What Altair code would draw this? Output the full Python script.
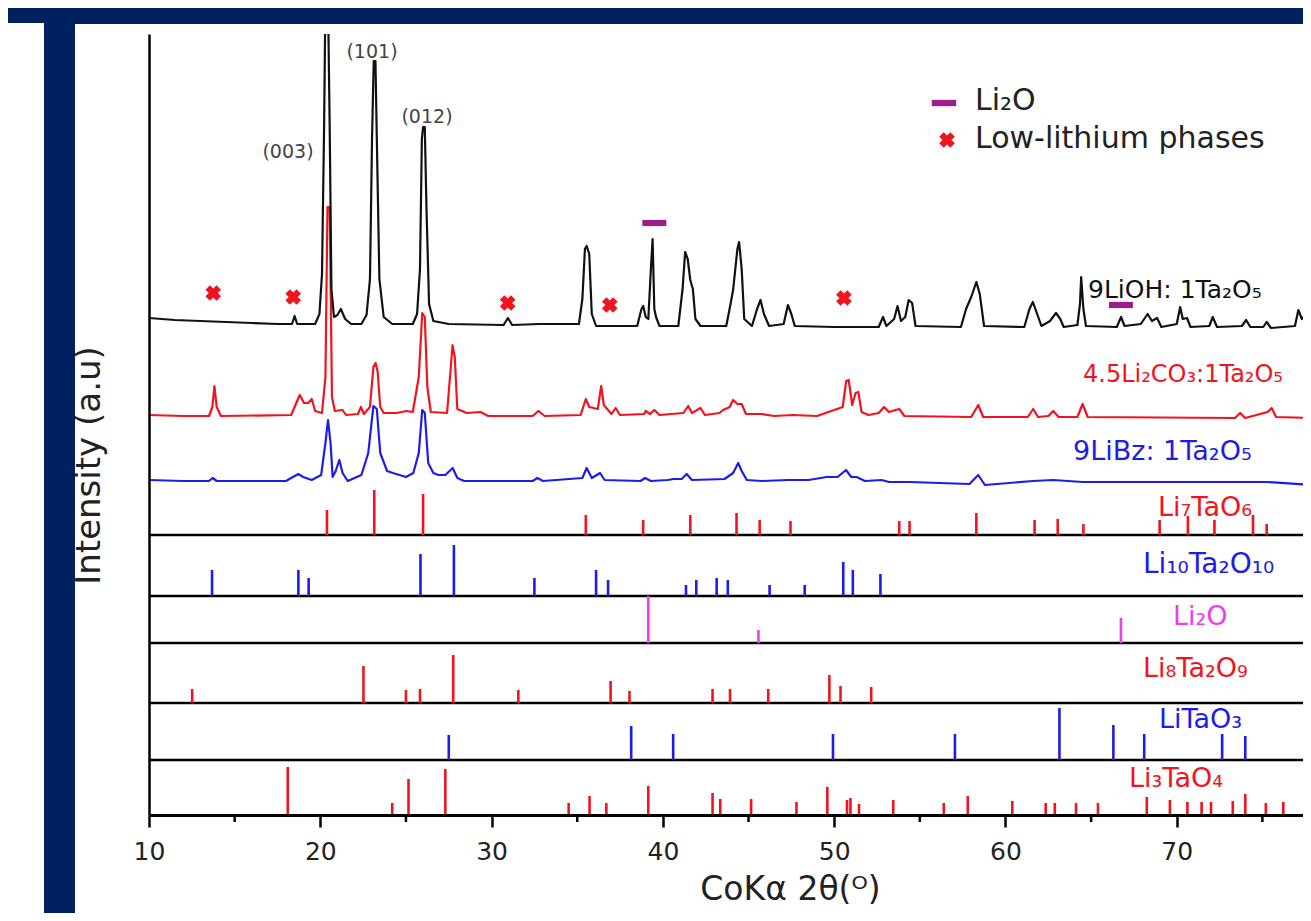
import altair as alt
import pandas as pd

# ---------------- data ----------------
X_MIN, X_MAX = 10, 77.37

# 9LiOH : 1Ta2O5 (black) - relative intensity above its baseline
lioh_x = [10.0, 11.5, 13.0, 14.5, 16.0, 17.5, 18.35, 18.5, 18.65, 19.7, 19.95, 20.1, 20.22, 20.3, 20.45, 20.55,
          20.65, 20.8, 21.0, 21.2, 21.45, 21.8, 22.4, 22.7, 22.9, 23.02, 23.12, 23.22, 23.3, 23.45, 23.7, 24.2,
          25.4, 25.65, 25.82, 25.93, 26.0, 26.1, 26.2, 26.35, 26.6, 27.5, 30.7, 30.95, 31.2, 32.8, 35.1, 35.3,
          35.45, 35.55, 35.7, 35.85, 36.1, 38.5, 38.75, 38.85, 39.0, 39.15, 39.3, 39.4, 39.5, 39.6, 39.8, 40.9,
          41.15, 41.3, 41.45, 41.6, 41.75, 41.9, 42.2, 43.7, 43.95, 44.1, 44.35, 44.45, 44.6, 44.75, 45.2, 45.5,
          45.7, 45.9, 46.2, 47.05, 47.3, 47.5, 47.7, 50.0, 52.6, 52.85, 53.05, 53.5, 53.7, 53.9, 54.15, 54.35,
          54.55, 54.75, 57.4, 57.7, 58.0, 58.3, 58.5, 58.75, 61.1, 61.4, 61.6, 61.85, 62.1, 62.6, 62.95, 63.2,
          63.4, 64.2, 64.35, 64.42, 64.55, 64.7, 66.5, 66.75, 66.95, 67.9, 68.3, 68.55, 68.85, 69.1, 70.0, 70.2,
          70.35, 70.6, 70.8, 71.9, 72.1, 72.35, 73.8, 74.05, 74.3, 75.05, 75.25, 75.5, 76.9, 77.1, 77.3, 77.5, 77.83]
lioh_y = [11, 9, 8, 7, 6, 5, 5, 13, 5, 5, 15, 55, 200, 330, 330, 200,
          40, 12, 14, 20, 10, 5, 5, 14, 50, 190, 268, 268, 190, 50, 12, 5,
          5, 15, 60, 190, 202, 202, 120, 25, 8, 5, 4, 11, 4, 5, 5, 30,
          80, 83, 75, 15, 3, 3, 20, 23, 12, 10, 60, 90, 20, 12, 3, 3,
          40, 77, 70, 49, 40, 10, 3, 3, 25, 39, 80, 87, 60, 10, 3, 20,
          29, 15, 3, 5, 24, 15, 3, 2, 2, 12, 3, 10, 23, 8, 12, 29,
          26, 3, 2, 20, 32, 47, 35, 3, 2, 20, 27, 15, 3, 8, 16, 10,
          2, 4, 25, 52, 20, 3, 2, 12, 3, 5, 15, 8, 11, 2, 5, 22,
          10, 11, 2, 3, 12, 2, 3, 9, 2, 2, 7, 1, 3, 19, 10, 14, 2]

# 4.5Li2CO3 : 1Ta2O5 (red)
li2co3_x = [10.0, 12.0, 13.5, 13.7, 13.82, 13.95, 14.2, 18.3, 18.55, 18.8, 19.05, 19.3, 19.5, 19.7, 20.1, 20.3,
            20.42, 20.55, 20.68, 20.85, 21.3, 21.5, 22.2, 22.37, 22.55, 22.9, 23.1, 23.23, 23.35, 23.5, 23.7,
            24.46, 25.04, 25.4, 25.75, 25.95, 26.1, 26.25, 26.45, 27.4, 27.62, 27.72, 27.85, 28.0, 28.55, 29.36,
            29.8, 32.4, 32.73, 33.1, 35.2, 35.5, 35.7, 36.2, 36.4, 36.55, 37.0, 37.24, 37.5, 38.9, 39.0, 39.25,
            39.5, 39.8, 41.2, 41.48, 41.7, 42.2, 42.45, 43.3, 43.52, 43.9, 44.1, 44.35, 44.6, 44.85, 45.76, 46.5,
            47.6, 49.0, 50.5, 50.7, 50.85, 51.05, 51.25, 51.41, 51.6, 52.0, 52.6, 52.91, 53.2, 53.8, 54.1, 58.0,
            58.41, 58.7, 61.3, 61.62, 61.9, 62.5, 62.79, 63.1, 64.2, 64.5, 64.8, 73.4, 73.7, 74.0, 75.3, 75.54,
            75.8, 77.83]
li2co3_y = [2, 1, 1, 10, 31, 10, 1, 2, 12, 22, 14, 14, 18, 6, 4, 40,
            210, 210, 20, 6, 7, 2, 3, 10, 3, 10, 50, 54, 45, 10, 4,
            4, 6, 5, 40, 104, 100, 30, 5, 4, 50, 72, 60, 8, 4, 5,
            1, 1, 6, 1, 2, 18, 10, 8, 31, 12, 3, 9, 2, 3, 6, 3,
            7, 2, 4, 11, 4, 9, 2, 4, 7, 10, 17, 13, 13, 3, 3, 1,
            2, 1, 10, 36, 37, 12, 24, 25, 5, 2, 4, 10, 5, 8, 1, 0,
            12, 0, 0, 8, 0, 1, 6, 0, 0, 13, 0, -1, 4, -1, 5, 9,
            0, -1]

# 9LiBz : 1Ta2O5 (blue)
libz_x = [10.0, 12.0, 13.5, 13.72, 13.95, 18.0, 18.4, 18.72, 19.0, 19.5, 20.05, 20.3, 20.45, 20.6, 20.72, 20.9,
          21.11, 21.3, 21.6, 22.4, 22.8, 23.1, 23.3, 23.5, 23.9, 24.24, 25.0, 25.43, 25.75, 25.95, 26.1, 26.3,
          26.6, 26.9, 27.3, 27.73, 28.0, 28.4, 32.4, 32.67, 33.0, 35.3, 35.55, 35.85, 36.33, 36.6, 38.7, 38.96,
          39.3, 40.3, 40.61, 41.1, 41.39, 41.7, 43.6, 44.1, 44.4, 44.6, 44.9, 45.76, 47.32, 48.5, 49.56, 50.2,
          50.69, 51.0, 51.31, 51.8, 52.77, 53.2, 54.43, 57.9, 58.41, 58.8, 61.6, 62.8, 64.5, 75.3, 77.83]
libz_y = [3, 2, 2, 5, 2, 2, 6, 9, 6, 3, 8, 40, 63, 40, 6, 12,
          23, 10, 2, 8, 30, 77, 74, 30, 12, 10, 6, 10, 30, 73, 70, 20,
          10, 8, 8, 15, 5, 2, 2, 5, 2, 5, 15, 5, 10, 3, 2, 5,
          2, 3, 4, 4, 9, 3, 4, 10, 20, 12, 3, 2, 3, 3, 6, 6,
          13, 6, 6, 2, 3, 1, 1, -1, 8, -2, 2, 3, 1, 1, -2]

# reference stick patterns: 2theta positions and relative intensities
li7_pos = [20.39, 23.15, 26.0, 35.5, 38.85, 41.6, 44.3, 45.65, 47.45, 53.8, 54.4, 58.3, 61.7, 63.05, 64.55,
           69.0, 70.65, 72.2, 74.45, 75.25]
li7_int = [25, 45, 41, 20, 15, 20, 22, 15, 14, 14, 14, 22, 15, 16, 11, 15, 19, 15, 20, 11]

li10_pos = [13.68, 18.72, 19.32, 25.85, 27.8, 32.5, 36.1, 36.8, 41.35, 41.95, 43.14, 43.79, 46.23, 48.28,
            50.53, 51.09, 52.7]
li10_int = [26, 26, 18, 42, 51, 18, 26, 16, 11, 16, 18, 16, 11, 11, 34, 26, 22]

li2o_pos = [39.15, 45.58, 66.74]
li2o_int = [47, 13, 25]

li8_pos = [12.52, 22.52, 25.0, 25.82, 27.76, 31.56, 36.95, 38.05, 42.9, 43.92, 46.15, 49.72, 50.37, 52.16]
li8_int = [14, 37, 13, 14, 48, 13, 22, 12, 14, 14, 14, 28, 17, 16]

litao3_pos = [27.5, 38.15, 40.6, 49.93, 57.05, 63.15, 66.3, 68.1, 72.65, 74.0]
litao3_int = [25, 34, 26, 26, 26, 52, 35, 26, 26, 24]

li3_pos = [18.1, 24.2, 25.15, 27.3, 34.5, 35.72, 36.7, 39.15, 42.9, 43.35, 45.15, 47.8, 49.6, 50.75, 50.95,
           51.45, 53.45, 56.4, 57.8, 60.4, 62.35, 62.88, 64.12, 65.4, 68.25, 69.6, 70.62, 71.45, 72.0, 73.27,
           74.0, 75.2, 76.22]
li3_int = [48, 12, 36, 46, 12, 19, 12, 29, 22, 16, 16, 13, 28, 15, 17, 11, 15, 12, 19, 14, 12, 12, 12, 12,
           18, 15, 13, 13, 13, 14, 21, 12, 13]

# phase markers on the 9LiOH pattern
lowli_x = [13.75, 18.42, 30.94, 36.9, 50.57]
lowli_y = [36, 32, 26, 24, 31]
li2o_mark_x = [39.5, 66.74]
li2o_mark_y = [106, 24]

# ---------------- layout constants (not data) ----------------
W, H = 1154, 781
NAVY = "#002060"
BLACK, RED, BLUE, MAGENTA, PURPLE = "#111111", "#f0141e", "#1d1de6", "#ee3cee", "#9b1e8e"
OFF_LIOH, OFF_CO3, OFF_BZ = 486, 398, 332
BASES = {"Li7TaO6": 280, "Li10Ta2O10": 219, "Li2O": 172, "Li8Ta2O9": 112, "LiTaO3": 55, "Li3TaO4": 0}
PHASE_COL = {"Li7TaO6": RED, "Li10Ta2O10": BLUE, "Li2O": MAGENTA, "Li8Ta2O9": RED, "LiTaO3": BLUE,
             "Li3TaO4": RED}
FONT = "DejaVu Sans"

xs = alt.Scale(domain=[X_MIN, X_MAX], nice=False, zero=False)
ys = alt.Scale(domain=[0, H], nice=False, zero=False)

one = pd.DataFrame({"a": [0]})

x_axis = alt.Axis(values=[10, 20, 30, 40, 50, 60, 70], grid=False, domainColor="black", domainWidth=3,
                  tickColor="black", tickWidth=2.5, tickSize=12, labelFontSize=25, labelFont=FONT,
                  labelColor="#222222", labelPadding=12, labelFlush=False, zindex=1,
                  title="CoKα 2θ(ᴼ)", titleFont=FONT, titleFontSize=33, titleFontWeight="normal",
                  titleColor="#222222", titleX=641, titleY=74, titleAlign="center", titleBaseline="middle")
y_axis = alt.Axis(labels=False, ticks=False, grid=False, domainColor="black", domainWidth=2.5, zindex=1,
                  title="Intensity (a.u)", titleFont=FONT, titleFontSize=34,
                  titleFontWeight="normal", titleColor="#222222", titleX=-60, titleY=431, titleAngle=270,
                  titleAlign="center", titleBaseline="middle")

white = alt.Chart(one).mark_rect(color="white").encode(
    x=alt.value(-74), x2=alt.value(W + 20), y=alt.value(-10), y2=alt.value(881))
white_left = alt.Chart(one).mark_rect(color="white").encode(
    x=alt.value(-160), x2=alt.value(-105), y=alt.value(-11), y2=alt.value(881))


def trace(xv, yv, off, color, with_axes=False):
    df = pd.DataFrame({"x": xv, "y": [v + off for v in yv], "o": list(range(len(xv)))})
    if with_axes:
        enc_x = alt.X("x:Q", scale=xs, axis=x_axis)
        enc_y = alt.Y("y:Q", scale=ys, axis=y_axis)
    else:
        enc_x = alt.X("x:Q", scale=xs)
        enc_y = alt.Y("y:Q", scale=ys)
    return alt.Chart(df).mark_line(strokeWidth=2.2, clip=True, strokeJoin="round", color=color).encode(
        x=enc_x, y=enc_y, order="o:Q")


def sticks(name, pv, iv):
    base = BASES[name]
    df = pd.DataFrame({"x": pv, "y0": [base] * len(pv), "y1": [base + h for h in iv]})
    return alt.Chart(df).mark_rule(strokeWidth=2.6, color=PHASE_COL[name]).encode(
        x=alt.X("x:Q", scale=xs), y=alt.Y("y0:Q", scale=ys), y2="y1:Q")


stick_layers = [
    sticks("Li7TaO6", li7_pos, li7_int),
    sticks("Li10Ta2O10", li10_pos, li10_int),
    sticks("Li2O", li2o_pos, li2o_int),
    sticks("Li8Ta2O9", li8_pos, li8_int),
    sticks("LiTaO3", litao3_pos, litao3_int),
    sticks("Li3TaO4", li3_pos, li3_int),
]
trace_layers = [
    trace(libz_x, libz_y, OFF_BZ, BLUE, with_axes=True),
    trace(li2co3_x, li2co3_y, OFF_CO3, RED),
    trace(lioh_x, lioh_y, OFF_LIOH, BLACK),
]

panel_lines = pd.DataFrame({"y": [v for k, v in BASES.items() if v > 0]})
panels = alt.Chart(panel_lines).mark_rule(strokeWidth=2.6, color="black").encode(y=alt.Y("y:Q", scale=ys))

minor = pd.DataFrame({"x": [15, 25, 35, 45, 55, 65, 75]})
minor_ticks = alt.Chart(minor).mark_rule(strokeWidth=2.5, color="black").encode(
    x=alt.X("x:Q", scale=xs), y=alt.value(H), y2=alt.value(H + 7))

lowli = pd.DataFrame({"x": lowli_x, "y": [v + OFF_LIOH for v in lowli_y]})
li2om = pd.DataFrame({"x": li2o_mark_x, "y": [v + OFF_LIOH for v in li2o_mark_y]})
x_marks = alt.Chart(lowli).mark_point(shape="cross", angle=45, filled=True, size=250, color=RED,
                                      opacity=1).encode(x=alt.X("x:Q", scale=xs), y=alt.Y("y:Q", scale=ys))
BAR = "M-1,-0.26L1,-0.26L1,0.26L-1,0.26Z"
bar_marks = alt.Chart(li2om).mark_point(shape=BAR, filled=True, size=576, color=PURPLE, opacity=1).encode(
    x=alt.X("x:Q", scale=xs), y=alt.Y("y:Q", scale=ys))

# legend symbols
leg_bar = alt.Chart(one).mark_point(shape=BAR, filled=True, size=600, color=PURPLE, opacity=1).encode(
    x=alt.value(795), y=alt.value(69))
leg_x = alt.Chart(one).mark_point(shape="cross", angle=45, filled=True, size=250, color=RED, opacity=1).encode(
    x=alt.value(798), y=alt.value(106))


def label(text, x, y, color, size, align="left"):
    return alt.Chart(one).mark_text(text=text, align=align, baseline="alphabetic", fontSize=size,
                                    font=FONT, color=color).encode(x=alt.value(x), y=alt.value(y))


texts = [
    label("(003)", 139, 124, "#444444", 19, align="center"),
    label("(101)", 223, 24, "#444444", 19, align="center"),
    label("(012)", 278, 89, "#444444", 19, align="center"),
    label("Li₂O", 826, 76, "#222222", 30),
    label("Low-lithium phases", 826, 114, "#222222", 30),
    label("9LiOH: 1Ta₂O₅", 939, 264, "#111111", 25),
    label("4.5Li₂CO₃:1Ta₂O₅", 934, 348, RED, 24),
    label("9LiBz: 1Ta₂O₅", 924, 426, BLUE, 27),
    label("Li₇TaO₆", 1009, 482, RED, 27),
    label("Li₁₀Ta₂O₁₀", 994, 539, BLUE, 28),
    label("Li₂O", 1024, 591, MAGENTA, 27),
    label("Li₈Ta₂O₉", 994, 643, RED, 27),
    label("LiTaO₃", 1010, 694, BLUE, 27),
    label("Li₃TaO₄", 980, 753, RED, 27),
]

chart = alt.layer(white, white_left, panels, *stick_layers, *trace_layers, minor_ticks, x_marks, bar_marks,
                  leg_bar, leg_x, *texts).properties(
    width=W, height=H,
    padding={"left": 141, "top": 26, "right": 0, "bottom": 98},
    autosize=alt.AutoSizeParams(type="none"),
    background=NAVY,
).configure_view(strokeWidth=0)

chart.save("out.html", embed_options={"renderer": "svg", "actions": False})
